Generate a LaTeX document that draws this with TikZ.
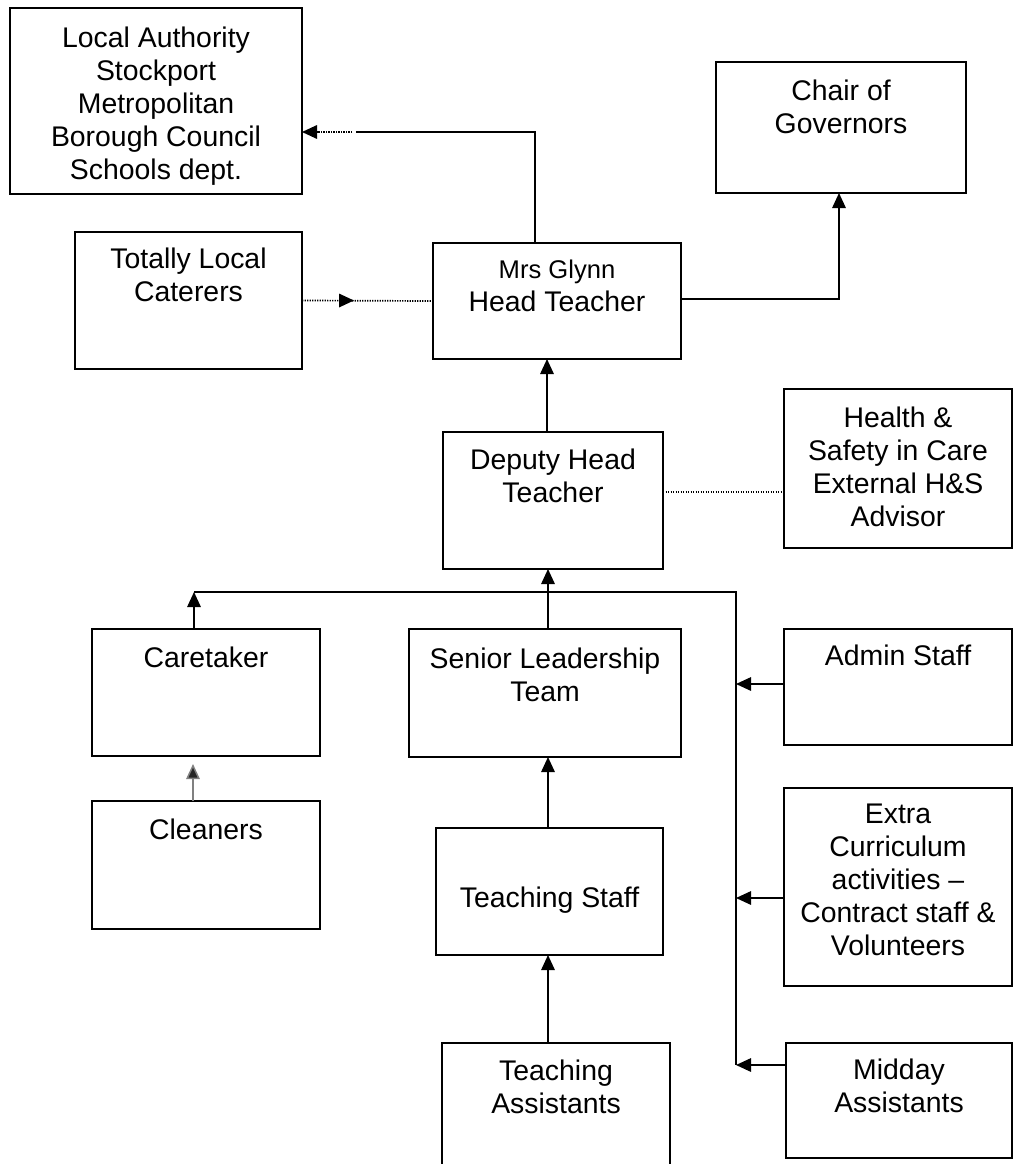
\documentclass[tikz,border=0pt]{standalone}
\usepackage{fontspec}
\setmainfont{Liberation Sans}
\usetikzlibrary{arrows.meta}
\begin{document}
\begin{tikzpicture}[x=1pt,y=-1pt,
  box/.style={draw, line width=1.8pt, rectangle, inner sep=0pt, outer sep=0pt},
  txt/.style={align=center, inner sep=0pt, outer sep=0pt, font=\fontsize{28.4}{33}\selectfont},
  conn/.style={line width=1.5pt},
  dotline/.style={line width=1.7pt, dash pattern=on 1.4pt off 1.1pt},
  arr/.style={-{Triangle[length=15pt,width=13.5pt]}}]
\useasboundingbox (0,0) rectangle (1013,1164);
\fill[white] (0,0) rectangle (1013,1164);
\clip (0,0) rectangle (1013,1164);

% boxes
\node[box, minimum width=292pt, minimum height=186pt, label={[txt,anchor=north,yshift=-19pt]north:Local Authority\\Stockport\\Metropolitan\\Borough Council\\Schools dept.}] (la) at (156,101) {};
\node[box, minimum width=227pt, minimum height=137pt, label={[txt,anchor=north,yshift=-16pt]north:Totally Local\\Caterers}] (tlc) at (188.5,300.5) {};
\node[box, minimum width=248pt, minimum height=116pt, label={[txt,anchor=north,yshift=-17pt]north:{\fontsize{25.6}{30}\selectfont Mrs Glynn}\\Head Teacher}] (head) at (557,301) {};
\node[box, minimum width=250pt, minimum height=131pt, label={[txt,anchor=north,yshift=-18pt]north:Chair of\\Governors}] (chair) at (841,127.5) {};
\node[box, minimum width=220pt, minimum height=137pt, label={[txt,anchor=north,yshift=-17pt]north:Deputy Head\\Teacher}] (deputy) at (553,500.5) {};
\node[box, minimum width=228pt, minimum height=159pt, label={[txt,anchor=north,yshift=-18pt]north:Health \&\\Safety in Care\\External H\&S\\Advisor}] (hs) at (898,468.5) {};
\node[box, minimum width=228pt, minimum height=127pt, label={[txt,anchor=north,yshift=-18pt]north:Caretaker}] (care) at (206,692.5) {};
\node[box, minimum width=272pt, minimum height=128pt, label={[txt,anchor=north,yshift=-19pt]north:Senior Leadership\\Team}] (slt) at (545,693) {};
\node[box, minimum width=228pt, minimum height=116pt, label={[txt,anchor=north,yshift=-16pt]north:Admin Staff}] (admin) at (898,687) {};
\node[box, minimum width=228pt, minimum height=128pt, label={[txt,anchor=north,yshift=-18pt]north:Cleaners}] (clean) at (206,865) {};
\node[box, minimum width=227pt, minimum height=127pt, label={[txt,anchor=north,yshift=-59pt]north:Teaching Staff}] (ts) at (549.5,891.5) {};
\node[box, minimum width=228pt, minimum height=198pt, label={[txt,anchor=north,yshift=-16pt]north:Extra\\Curriculum\\activities –\\Contract staff \&\\Volunteers}] (ec) at (898,887) {};
\node[box, minimum width=228pt, minimum height=127pt, label={[txt,anchor=north,yshift=-17pt]north:Teaching\\Assistants}] (ta) at (556,1106.5) {};
\node[box, minimum width=226pt, minimum height=115pt, label={[txt,anchor=north,yshift=-16pt]north:Midday\\Assistants}] (mid) at (899,1100.5) {};

% head -> local authority
\coordinate (j1) at (356,132);
\draw[conn] ([xshift=-22pt]head.north) |- (j1);
\draw[dotline,arr] ([xshift=-4pt]j1) -- (la.east |- j1);

% caterers -> head
\coordinate (m1) at (354,300.5);
\draw[dotline] (tlc.east) -- (head.west);
\draw[dotline,arr] (tlc.east) -- (m1);

% head -> chair
\draw[conn,arr] ([yshift=2pt]head.east) -| ([xshift=-2pt]chair.south);

% deputy -> head
\draw[conn,arr] ([xshift=-6pt]deputy.north) -- ([xshift=-6pt]deputy.north |- head.south);

% deputy -- H&S
\draw[dotline] ([yshift=8.5pt]deputy.east) -- ([yshift=8.5pt]deputy.east -| hs.west);

% bus
\coordinate (busL) at (194,592);
\coordinate (busR) at (736,592);
\coordinate (busB) at (736,1065);
\draw[conn] (busL) -- (busR) -- (busB);

\draw[conn,arr] (care.north -| busL) -- (busL);
\draw[conn,arr] ([xshift=3pt]slt.north) -- ([xshift=3pt]slt.north |- deputy.south);
\draw[conn,arr] ([yshift=3pt]admin.west) -- ([yshift=3pt]admin.west -| busR);
\draw[conn,arr] ([yshift=-11pt]ec.west) -- ([yshift=-11pt]ec.west -| busR);
\draw[conn,arr] (mid.west |- busB) -- (busB);

% cleaners -> caretaker
\draw[conn,draw=black!50,-{Triangle[length=15pt,width=13.5pt,fill=black!85]}] ([xshift=-13pt]clean.north) -- ([xshift=-13pt,yshift=-8pt]care.south);

% teaching staff -> SLT, TA -> TS
\draw[conn,arr] ([xshift=-1.5pt]ts.north) -- ([xshift=-1.5pt]ts.north |- slt.south);
\draw[conn,arr] ([xshift=-8pt]ta.north) -- ([xshift=-8pt]ta.north |- ts.south);
\end{tikzpicture}
\end{document}
